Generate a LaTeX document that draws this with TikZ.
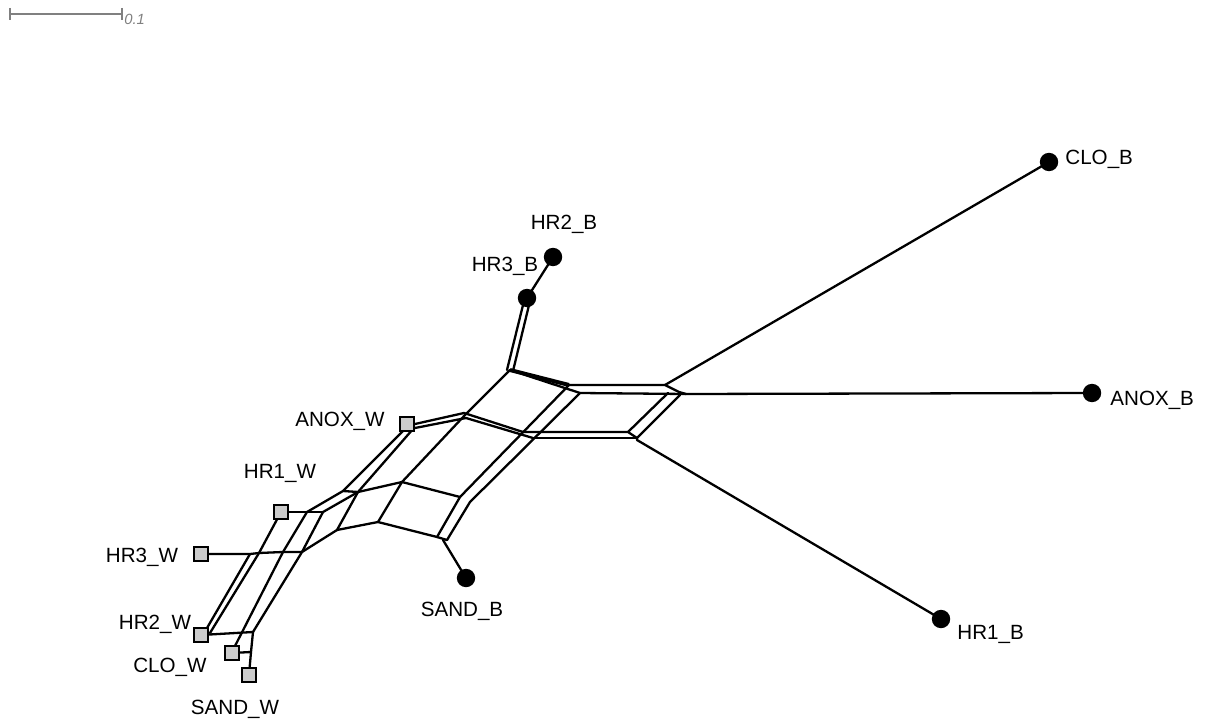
\documentclass[tikz,border=0pt]{standalone}
\usepackage{fontspec}
\setmainfont{Liberation Sans}
\pgfdeclarelayer{bg}
\pgfsetlayers{bg,main}
\begin{document}
\begin{tikzpicture}[x=0.5pt,y=-0.5pt,
  edge/.style={line width=1.15pt, line join=round, line cap=round},
  thickedge/.style={line width=2pt, line join=round},
  leafB/.style={circle, fill=black, minimum size=9.2pt, inner sep=0pt},
  leafW/.style={rectangle, fill=black!20, draw=black, line width=1.1pt, minimum size=7.2pt, inner sep=0pt},
  lab/.style={font=\fontsize{10.3}{12}\selectfont, inner sep=0pt},
  scalebar/.style={draw=black!50, line width=1.2pt},
  scalelab/.style={font=\fontsize{7.4}{8}\selectfont\itshape, text=black!50, inner sep=0pt}]
\useasboundingbox (0,0) rectangle (1211,722);

% scale bar
\coordinate (sb1) at (10,14);
\coordinate (sb2) at (122,14);
\draw[scalebar] (sb1) -- (sb2);
\draw[scalebar] (10,8) -- (10,20);
\draw[scalebar] (122,8) -- (122,20);
\node[scalelab, anchor=west] (sbl) at (124,19) {0.1};

% leaves
\node[leafB] (CLOB) at (1049,162) {};
\node[leafB] (ANOXB) at (1092,393) {};
\node[leafB] (HR1B) at (941,619) {};
\node[leafB] (HR2B) at (553,257) {};
\node[leafB] (HR3B) at (527,298) {};
\node[leafB] (SANDB) at (466,578) {};
\node[leafW] (ANOXW) at (407,424) {};
\node[leafW] (HR1W) at (281,512) {};
\node[leafW] (HR3W) at (201,554) {};
\node[leafW] (HR2W) at (201,635) {};
\node[leafW] (CLOW) at (232,653) {};
\node[leafW] (SANDW) at (249,675) {};

% labels
\node[lab, anchor=west] (lCLOB) at (1065,159) {CLO\_B};
\node[lab, anchor=west] (lANOXB) at (1110,400) {ANOX\_B};
\node[lab, anchor=west] (lHR1B) at (957,634) {HR1\_B};
\node[lab] (lHR2B) at (564,224) {HR2\_B};
\node[lab] (lHR3B) at (505,266) {HR3\_B};
\node[lab] (lSANDB) at (462,611) {SAND\_B};
\node[lab] (lANOXW) at (340,421) {ANOX\_W};
\node[lab] (lHR1W) at (280,473) {HR1\_W};
\node[lab] (lHR3W) at (142,557) {HR3\_W};
\node[lab] (lHR2W) at (155,624) {HR2\_W};
\node[lab] (lCLOW) at (170,667) {CLO\_W};
\node[lab] (lSANDW) at (235,709) {SAND\_W};

% internal vertices
\coordinate (rC) at (665,385);
\coordinate (rA) at (686,394);
\coordinate (rW) at (679,392);
\coordinate (d1a) at (668,393);
\coordinate (d2a) at (680,395);
\coordinate (d1b) at (628,432);
\coordinate (d2b) at (637,438);
\coordinate (rH) at (637,440);
\coordinate (t1) at (569,385);
\coordinate (t2) at (580,393);
\coordinate (b1) at (523,432);
\coordinate (b2) at (533,438);
\coordinate (A) at (510,370);
\coordinate (A1) at (507,370);
\coordinate (A2) at (513,371);
\coordinate (h1) at (524,301);
\coordinate (h2) at (530,301);
\coordinate (C) at (465,415);
\coordinate (C1) at (464,413);
\coordinate (C2) at (466,418);
\coordinate (aw1) at (415,424);
\coordinate (aw2) at (415,428);
\coordinate (D) at (402,482);
\coordinate (E1) at (460,497);
\coordinate (E2) at (470,502);
\coordinate (S1) at (437,537);
\coordinate (S2) at (447,540);
\coordinate (S) at (443,540);
\coordinate (F) at (378,522);
\coordinate (G1) at (343,491);
\coordinate (G2) at (358,492);
\coordinate (aw3) at (404,430);
\coordinate (aw4) at (413,429);
\coordinate (H) at (337,530);
\coordinate (I1) at (307,512);
\coordinate (I2) at (323,512);
\coordinate (J0) at (250,554);
\coordinate (J1) at (259,553);
\coordinate (J2) at (283,552);
\coordinate (J3) at (302,552);
\coordinate (K0) at (207,628);
\coordinate (K1) at (210,633);
\coordinate (K3) at (235,646);
\coordinate (K4) at (253,632);
\coordinate (K5) at (251,652);

\begin{pgfonlayer}{bg}
% pendant edges on the right
\draw[edge] (rC) -- (CLOB.center);
\draw[edge] (rA) -- (ANOXB.center);
\draw[edge] (rH) -- (HR1B.center);
% right box
\draw[edge] (t1) -- (rC) -- (rW) -- (rA);
\draw[edge] (t2) -- (rA);
\draw[edge] (d1a) -- (d1b);
\draw[edge] (d2a) -- (d2b);
\draw[edge] (b1) -- (d1b) -- (d2b) -- (rH);
\draw[edge] (b2) -- (d2b);
% long parallels
\draw[edge] (t1) -- (E1);
\draw[edge] (t2) -- (E2);
% top junction
\draw[thickedge] (A) -- (t1);
\draw[edge] (A) -- (t2);
\draw[edge] (A1) -- (h1);
\draw[edge] (A2) -- (h2);
\draw[edge] (HR3B.center) -- (HR2B.center);
\draw[edge] (A) -- (C);
% ANOX_W junction
\draw[edge] (C1) -- (aw1) -- (ANOXW.center);
\draw[edge] (C2) -- (aw2) -- (ANOXW.center);
\draw[edge] (C1) -- (b1);
\draw[edge] (C2) -- (b2);
\draw[edge] (C) -- (D);
% middle
\draw[edge] (D) -- (E1);
\draw[edge] (D) -- (F);
\draw[edge] (D) -- (G2);
\draw[edge] (E1) -- (S1);
\draw[edge] (E2) -- (S2);
\draw[edge] (S1) -- (S2);
\draw[edge] (S) -- (SANDB.center);
\draw[edge] (F) -- (S1);
\draw[edge] (ANOXW.center) -- (aw3) -- (G1);
\draw[edge] (aw4) -- (G2);
\draw[edge] (G1) -- (G2);
\draw[edge] (G2) -- (H);
\draw[edge] (H) -- (F);
\draw[edge] (G1) -- (I1);
\draw[edge] (G2) -- (I2);
% left ladder
\draw[edge] (HR1W.center) -- (I2);
\draw[edge] (I1) -- (J2);
\draw[edge] (I2) -- (J3);
\draw[edge] (H) -- (J3);
\draw[edge] (HR1W.center) -- (J1);
\draw[edge] (HR3W.center) -- (J0) -- (J1) -- (J2) -- (J3);
\draw[edge] (J0) -- (K0);
\draw[edge] (J1) -- (K1);
\draw[edge] (J2) -- (K3);
\draw[edge] (J3) -- (K4);
\draw[edge] (HR2W.center) -- (K4);
\draw[edge] (K4) -- (K5) -- (SANDW.center);
\draw[edge] (CLOW.center) -- (K5);
\end{pgfonlayer}
\end{tikzpicture}
\end{document}
